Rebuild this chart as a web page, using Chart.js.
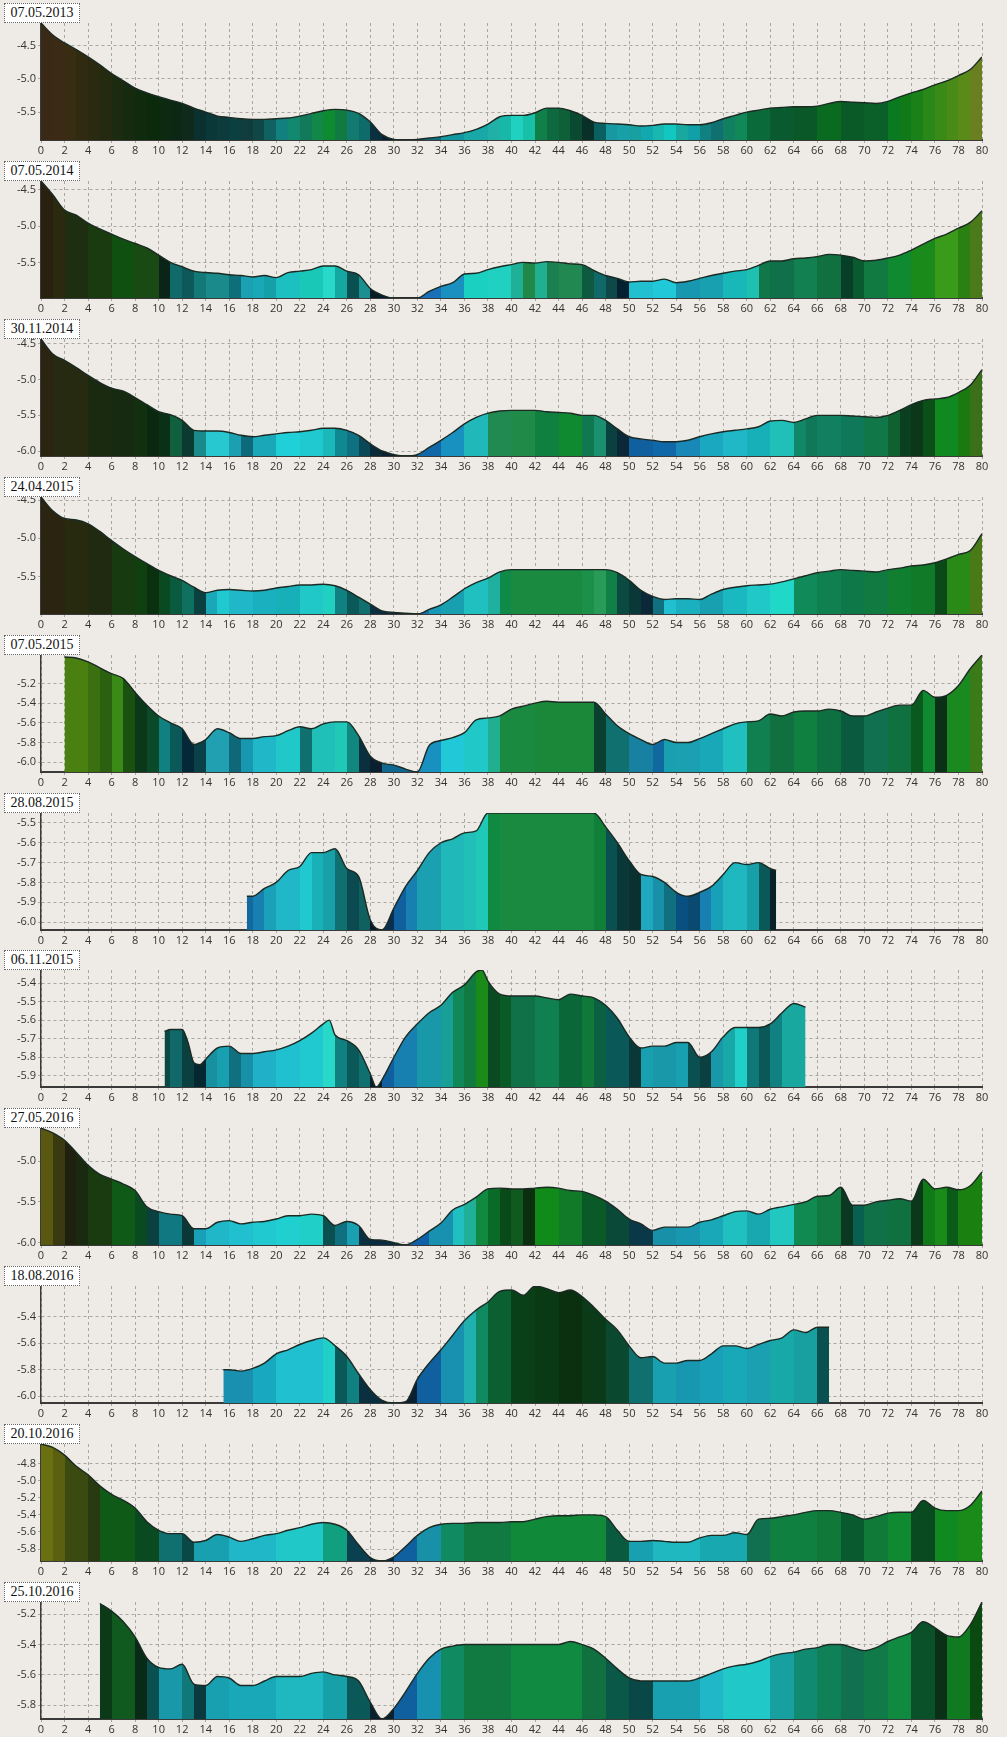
<!DOCTYPE html>
<html><head><meta charset="utf-8">
<script src="https://cdn.jsdelivr.net/npm/chart.js@4/dist/chart.umd.min.js"></script>
<style>
body{margin:0;background:#eeebe6;width:1007px;height:1737px;overflow:hidden;position:relative}
.panel{position:absolute;left:0;width:1007px;height:158px}
.panel canvas{position:absolute;left:0;top:0}
.ttl{position:absolute;left:4px;top:3px;width:74px;height:18px;border:1px dotted #666;background:#fff;font:14px "Liberation Serif",serif;color:#111;line-height:18px;text-align:center;z-index:2}
</style></head><body>
<script>
// ---- categories / tick labels ----
const titles = ['07.05.2013','07.05.2014','30.11.2014','24.04.2015','07.05.2015','28.08.2015','06.11.2015','27.05.2016','18.08.2016','20.10.2016','25.10.2016'];
const km = [0,1,2,3,4,5,6,7,8,9,10,11,12,13,14,15,16,17,18,19,20,21,22,23,24,25,26,27,28,29,30,31,32,33,34,35,36,37,38,39,40,41,42,43,44,45,46,47,48,49,50,51,52,53,54,55,56,57,58,59,60,61,62,63,64,65,66,67,68,69,70,71,72,73,74,75,76,77,78,79,80];
const xTicks = [0,2,4,6,8,10,12,14,16,18,20,22,24,26,28,30,32,34,36,38,40,42,44,46,48,50,52,54,56,58,60,62,64,66,68,70,72,74,76,78,80];

// ---- y tick labels per panel ----
const yTicks1 = [-4.5,-5.0,-5.5];
const yTicks2 = [-4.5,-5.0,-5.5];
const yTicks3 = [-4.5,-5.0,-5.5,-6.0];
const yTicks4 = [-4.5,-5.0,-5.5];
const yTicks5 = [-5.2,-5.4,-5.6,-5.8,-6.0];
const yTicks6 = [-5.5,-5.6,-5.7,-5.8,-5.9,-6.0];
const yTicks7 = [-5.4,-5.5,-5.6,-5.7,-5.8,-5.9];
const yTicks8 = [-5.0,-5.5,-6.0];
const yTicks9 = [-5.4,-5.6,-5.8,-6.0];
const yTicks10 = [-4.8,-5.0,-5.2,-5.4,-5.6,-5.8];
const yTicks11 = [-5.2,-5.4,-5.6,-5.8];

// ---- positions of partial profiles ----
const pos5 = km.slice(2);
const pos6 = [17.5,18,19,20,21,22,23,24,25,26,27,28,29,30,31,32,33,34,35,36,37,38,39,40,41,42,43,44,45,46,47,48,49,50,51,52,53,54,55,56,57,58,59,60,61,62,62.5];
const pos7 = [10.5,11,12,12.5,13,13.5,14,15,16,17,18,19,20,21,22,23,24,24.5,25,26,27,28,28.5,29,30,31,32,33,34,35,36,37,37.5,38,39,40,41,42,43,44,45,46,47,48,49,50,51,52,53,54,55,56,57,58,59,60,61,62,63,64,65];
const pos9 = [15.5,16,17,18,19,20,21,22,23,24,25,26,27,28,29,30,31,32,33,34,35,36,37,38,39,40,41,42,43,44,45,46,47,48,49,50,51,52,53,54,55,56,57,58,59,60,61,62,63,64,65,66,67];
const pos11 = km.slice(5);

// ---- depth values ----
const depth1 = [-4.16,-4.34,-4.46,-4.56,-4.67,-4.79,-4.92,-5.03,-5.14,-5.21,
-5.27,-5.32,-5.37,-5.44,-5.50,-5.56,-5.58,-5.60,-5.61,-5.61,
-5.60,-5.59,-5.56,-5.52,-5.48,-5.46,-5.47,-5.52,-5.65,-5.84,
-5.91,-5.92,-5.91,-5.89,-5.87,-5.84,-5.81,-5.76,-5.68,-5.57,
-5.55,-5.55,-5.51,-5.44,-5.44,-5.48,-5.55,-5.65,-5.67,-5.68,
-5.69,-5.71,-5.70,-5.68,-5.68,-5.69,-5.69,-5.66,-5.60,-5.55,
-5.50,-5.47,-5.44,-5.43,-5.42,-5.42,-5.41,-5.37,-5.34,-5.35,
-5.36,-5.37,-5.34,-5.27,-5.21,-5.16,-5.09,-5.03,-4.95,-4.86,-4.67];
const depth2 = [-4.38,-4.57,-4.78,-4.85,-4.96,-5.04,-5.11,-5.18,-5.24,-5.30,
-5.40,-5.50,-5.56,-5.62,-5.64,-5.65,-5.67,-5.68,-5.70,-5.68,
-5.71,-5.64,-5.62,-5.60,-5.55,-5.55,-5.62,-5.67,-5.86,-5.95,
-5.99,-5.99,-5.99,-5.90,-5.83,-5.78,-5.66,-5.65,-5.60,-5.56,
-5.53,-5.50,-5.51,-5.49,-5.50,-5.52,-5.53,-5.61,-5.68,-5.72,
-5.77,-5.76,-5.76,-5.73,-5.78,-5.76,-5.72,-5.68,-5.65,-5.62,
-5.60,-5.54,-5.48,-5.48,-5.45,-5.44,-5.42,-5.39,-5.40,-5.43,
-5.48,-5.47,-5.44,-5.40,-5.33,-5.25,-5.17,-5.11,-5.03,-4.95,-4.79];
const depth3 = [-4.43,-4.64,-4.73,-4.83,-4.94,-5.04,-5.12,-5.16,-5.25,-5.35,
-5.45,-5.49,-5.57,-5.71,-5.72,-5.72,-5.74,-5.78,-5.80,-5.78,
-5.76,-5.74,-5.73,-5.71,-5.68,-5.68,-5.71,-5.78,-5.90,-6.00,
-6.05,-6.07,-6.05,-5.95,-5.85,-5.74,-5.62,-5.53,-5.47,-5.44,
-5.43,-5.43,-5.43,-5.45,-5.46,-5.47,-5.50,-5.50,-5.57,-5.69,
-5.80,-5.83,-5.85,-5.87,-5.87,-5.85,-5.80,-5.76,-5.73,-5.71,
-5.69,-5.66,-5.58,-5.57,-5.60,-5.55,-5.50,-5.50,-5.50,-5.51,
-5.52,-5.53,-5.50,-5.43,-5.35,-5.29,-5.27,-5.25,-5.18,-5.08,-4.86];
const depth4 = [-4.46,-4.64,-4.74,-4.76,-4.81,-4.91,-5.03,-5.14,-5.24,-5.33,
-5.42,-5.49,-5.55,-5.64,-5.71,-5.68,-5.67,-5.68,-5.69,-5.68,
-5.65,-5.63,-5.61,-5.61,-5.60,-5.62,-5.68,-5.77,-5.86,-5.95,
-5.97,-5.98,-5.99,-5.93,-5.87,-5.77,-5.66,-5.58,-5.52,-5.44,
-5.41,-5.41,-5.41,-5.41,-5.41,-5.41,-5.41,-5.41,-5.41,-5.45,
-5.55,-5.68,-5.76,-5.80,-5.79,-5.79,-5.80,-5.73,-5.67,-5.64,
-5.62,-5.61,-5.60,-5.57,-5.53,-5.49,-5.45,-5.43,-5.41,-5.42,
-5.43,-5.44,-5.41,-5.39,-5.36,-5.35,-5.32,-5.27,-5.21,-5.16,-4.94];
const depth5 = [-4.93,-4.94,-4.98,-5.04,-5.10,-5.15,-5.29,-5.42,-5.53,-5.60,
-5.66,-5.82,-5.77,-5.66,-5.70,-5.76,-5.76,-5.74,-5.73,-5.68,
-5.64,-5.66,-5.61,-5.59,-5.59,-5.73,-5.94,-6.01,-6.03,-6.07,
-6.10,-5.83,-5.78,-5.75,-5.70,-5.57,-5.55,-5.53,-5.46,-5.43,
-5.40,-5.38,-5.39,-5.39,-5.39,-5.39,-5.51,-5.63,-5.71,-5.77,
-5.82,-5.77,-5.80,-5.80,-5.76,-5.71,-5.66,-5.61,-5.59,-5.58,
-5.51,-5.53,-5.49,-5.48,-5.48,-5.46,-5.48,-5.53,-5.53,-5.49,
-5.45,-5.42,-5.42,-5.27,-5.34,-5.32,-5.22,-5.05,-4.91];
const depth6 = [-5.87,-5.87,-5.83,-5.80,-5.74,-5.72,-5.65,-5.65,-5.63,-5.73,-5.77,-5.99,-6.04,-5.93,-5.82,-5.74,-5.65,-5.60,-5.58,-5.55,-5.54,
-5.45,-5.45,-5.45,-5.45,-5.45,-5.45,-5.45,-5.45,-5.45,-5.45,
-5.52,-5.60,-5.69,-5.76,-5.77,-5.80,-5.85,-5.87,-5.85,-5.82,-5.76,-5.70,-5.71,-5.70,-5.73,-5.74];
const depth7 = [-5.66,-5.65,-5.65,-5.72,-5.83,-5.84,-5.81,-5.75,-5.74,-5.78,-5.78,-5.77,-5.76,-5.74,-5.71,-5.67,-5.62,-5.60,-5.68,-5.71,-5.76,-5.89,-5.96,-5.92,
-5.80,-5.69,-5.62,-5.56,-5.52,-5.45,-5.41,-5.34,-5.33,-5.39,-5.46,-5.47,-5.47,-5.47,-5.48,-5.49,-5.46,-5.47,-5.48,-5.52,-5.59,
-5.69,-5.75,-5.74,-5.74,-5.72,-5.72,-5.80,-5.77,-5.69,-5.64,-5.64,-5.64,-5.62,-5.56,-5.51,-5.53];
const depth8 = [-4.59,-4.65,-4.74,-4.89,-5.05,-5.16,-5.22,-5.28,-5.36,-5.56,
-5.62,-5.65,-5.67,-5.83,-5.83,-5.75,-5.73,-5.77,-5.75,-5.74,
-5.71,-5.67,-5.67,-5.65,-5.67,-5.79,-5.74,-5.79,-5.96,-5.97,
-6.00,-6.03,-5.96,-5.86,-5.76,-5.60,-5.53,-5.44,-5.34,-5.33,
-5.34,-5.34,-5.33,-5.32,-5.33,-5.36,-5.37,-5.42,-5.49,-5.59,
-5.71,-5.77,-5.85,-5.81,-5.81,-5.81,-5.75,-5.72,-5.67,-5.62,
-5.61,-5.65,-5.59,-5.56,-5.53,-5.50,-5.43,-5.42,-5.32,-5.54,
-5.54,-5.50,-5.48,-5.46,-5.49,-5.22,-5.34,-5.32,-5.35,-5.30,-5.13];
const depth9 = [-5.80,-5.80,-5.81,-5.79,-5.75,-5.68,-5.65,-5.61,-5.58,-5.56,-5.62,-5.70,-5.83,-5.95,-6.03,-6.05,-6.04,-5.87,-5.75,-5.65,-5.54,-5.43,-5.35,-5.29,-5.21,-5.20,
-5.24,-5.17,-5.19,-5.22,-5.20,-5.25,-5.33,-5.42,-5.50,-5.62,-5.71,-5.70,-5.75,-5.75,-5.73,-5.73,-5.68,-5.62,-5.62,-5.64,-5.61,-5.58,-5.56,-5.50,-5.52,-5.48,-5.48];
const depth10 = [-4.57,-4.61,-4.70,-4.83,-4.93,-5.06,-5.16,-5.23,-5.32,-5.48,
-5.58,-5.62,-5.62,-5.72,-5.70,-5.63,-5.66,-5.71,-5.68,-5.64,
-5.62,-5.58,-5.55,-5.51,-5.49,-5.51,-5.58,-5.75,-5.90,-5.94,
-5.89,-5.77,-5.64,-5.55,-5.51,-5.50,-5.50,-5.49,-5.49,-5.49,
-5.48,-5.48,-5.45,-5.42,-5.41,-5.41,-5.40,-5.40,-5.42,-5.58,
-5.71,-5.71,-5.70,-5.71,-5.72,-5.72,-5.67,-5.64,-5.64,-5.61,
-5.63,-5.45,-5.44,-5.42,-5.40,-5.37,-5.35,-5.35,-5.37,-5.40,
-5.45,-5.42,-5.38,-5.37,-5.37,-5.23,-5.32,-5.35,-5.35,-5.29,-5.12];
const depth11 = [-5.13,-5.18,-5.25,-5.35,-5.49,-5.55,-5.56,-5.53,-5.66,-5.67,
-5.61,-5.62,-5.67,-5.67,-5.64,-5.61,-5.61,-5.61,-5.59,-5.58,
-5.60,-5.61,-5.64,-5.78,-5.89,-5.82,-5.71,-5.59,-5.49,-5.43,
-5.41,-5.40,-5.40,-5.40,-5.40,-5.40,-5.40,-5.40,-5.40,-5.40,
-5.38,-5.40,-5.43,-5.49,-5.56,-5.62,-5.64,-5.64,-5.64,-5.64,
-5.64,-5.62,-5.59,-5.56,-5.54,-5.53,-5.51,-5.48,-5.46,-5.45,
-5.43,-5.42,-5.40,-5.40,-5.42,-5.44,-5.42,-5.38,-5.35,-5.32,
-5.25,-5.29,-5.34,-5.35,-5.27,-5.12];

// ---- colour bands along the profile [from km, to km, colour] ----
const band1 = [[0,1,'#3b2918'],[1,2,'#3a2a16'],[2,3,'#382c12'],[3,4,'#302a10'],[4,5,'#2a2a10'],[5,6,'#232a10'],[6,7,'#1c2a10'],[7,8,'#162a10'],[8,9,'#102a0e'],[9,10,'#0b2a0c'],[10,11,'#0b2a10'],[11,12,'#0c2814'],[12,13,'#0f2a1a'],[13,14,'#0b3030'],[14,15,'#0a3838'],[15,16,'#0d3a3a'],[16,17,'#0c4040'],[17,18,'#103c3c'],[18,19,'#104646'],[19,20,'#106262'],[20,21,'#138080'],[21,22,'#128870'],[22,23,'#127a5a'],[23,24,'#128848'],[24,25,'#0e8a30'],[25,26,'#107a40'],[26,27,'#137a70'],[27,28,'#0f6a6a'],[28,29,'#0a3040'],[29,30,'#082030'],[30,32,'#0a2a40'],[32,34,'#106a80'],[34,36,'#1298a0'],[36,38,'#18a8a8'],[38,39,'#20b0a8'],[39,40,'#18b8a8'],[40,41,'#20d0c0'],[41,42,'#18c0a8'],[42,43,'#108048'],[43,44,'#0d6a40'],[44,45,'#0e6038'],[45,46,'#0a4a30'],[46,47,'#083028'],[47,48,'#0a6060'],[48,49,'#1898a0'],[49,50,'#18a0a8'],[50,51,'#18a0a0'],[51,52,'#12a8b0'],[52,53,'#18b8b0'],[53,54,'#10c8c0'],[54,55,'#18a8a0'],[55,56,'#12a0a8'],[56,57,'#108080'],[57,58,'#107070'],[58,59,'#108060'],[59,60,'#108858'],[60,62,'#0a6a3a'],[62,64,'#0a5a30'],[64,66,'#0a5828'],[66,68,'#0a6a20'],[68,70,'#0a5a28'],[70,72,'#0a6028'],[72,73,'#0a7a20'],[73,74,'#107a18'],[74,75,'#1a8018'],[75,76,'#2a8818'],[76,77,'#3a8a18'],[77,78,'#4a8a18'],[78,79,'#5a8a18'],[79,80,'#6a8020']];
const band2 = [[0,1,'#2a2010'],[1,2,'#2a2a10'],[2,4,'#1e2e10'],[4,6,'#1a3a10'],[6,8,'#0f5010'],[8,10,'#1a4a14'],[10,11,'#0a2418'],[11,12,'#106a6a'],[12,13,'#0d5858'],[13,14,'#137878'],[14,16,'#1a8a8a'],[16,17,'#0e6e7a'],[17,18,'#1aa0b0'],[18,19,'#19a8b8'],[19,20,'#15a0a8'],[20,22,'#1cc0c0'],[22,24,'#1ac8b8'],[24,25,'#28d8c8'],[25,26,'#15a8a0'],[26,27,'#0a5050'],[27,28,'#1a9090'],[28,29,'#061e28'],[29,32,'#0a1a30'],[32,34,'#1870b8'],[34,36,'#1a90c0'],[36,38,'#1ad0c0'],[38,40,'#20d0c0'],[40,41,'#20b098'],[41,42,'#208848'],[42,43,'#20b090'],[43,44,'#1a8050'],[44,46,'#208850'],[46,47,'#0d5a40'],[47,48,'#106868'],[48,49,'#0e4848'],[49,50,'#052030'],[50,52,'#20c0d0'],[52,54,'#20c8d8'],[54,56,'#1898b0'],[56,58,'#18a0b0'],[58,60,'#18b8b8'],[60,61,'#20c0b0'],[61,62,'#107848'],[62,64,'#10704a'],[64,66,'#128050'],[66,68,'#107040'],[68,69,'#063e28'],[69,70,'#0a5a30'],[70,72,'#107a40'],[72,74,'#108a30'],[74,76,'#1a8a1a'],[76,78,'#3a9a1a'],[78,79,'#2a8010'],[79,80,'#4a7a1a']];
const band3 = [[0,1,'#2a2410'],[1,4,'#252a10'],[4,6,'#1a2a10'],[6,8,'#152a10'],[8,9,'#103010'],[9,10,'#0a2810'],[10,11,'#0a3018'],[11,12,'#106040'],[12,13,'#0a3a30'],[13,14,'#1a8a8a'],[14,16,'#28c8d0'],[16,17,'#1aa0b0'],[17,18,'#0e6a7a'],[18,20,'#1aa8b8'],[20,22,'#20d0d8'],[22,24,'#20c8d0'],[24,25,'#1ab8b8'],[25,26,'#108890'],[26,27,'#0e7080'],[27,28,'#0a4858'],[28,29,'#0a2a38'],[29,32,'#082030'],[32,34,'#1068a8'],[34,36,'#1890c0'],[36,38,'#20b8b8'],[38,40,'#208a50'],[40,42,'#208a48'],[42,44,'#108040'],[44,46,'#108a30'],[46,47,'#107850'],[47,48,'#1a9070'],[48,49,'#0a4040'],[49,50,'#0a2838'],[50,52,'#1060a0'],[52,54,'#1068a8'],[54,56,'#1888b8'],[56,58,'#1aa8c0'],[58,60,'#20b8c8'],[60,62,'#18b0b8'],[62,64,'#20c0b8'],[64,65,'#108868'],[65,66,'#107858'],[66,68,'#108060'],[68,70,'#0e7858'],[70,72,'#107848'],[72,73,'#106030'],[73,74,'#0a4020'],[74,75,'#0a3818'],[75,76,'#0a5018'],[76,78,'#108a20'],[78,79,'#1a7a10'],[79,80,'#3a7018']];
const band4 = [[0,2,'#2a2410'],[2,4,'#282a10'],[4,6,'#202a10'],[6,8,'#183a10'],[8,9,'#104010'],[9,10,'#0a3010'],[10,11,'#0a4a20'],[11,12,'#0a5a40'],[12,13,'#107060'],[13,14,'#0a4040'],[14,15,'#1aa8b8'],[15,16,'#20c8d0'],[16,18,'#20b8c8'],[18,20,'#1ab0c0'],[20,22,'#18b0b8'],[22,24,'#20c8c8'],[24,25,'#20d0c0'],[25,26,'#108080'],[26,27,'#0a5858'],[27,28,'#107070'],[28,29,'#0a3040'],[29,32,'#0a2838'],[32,33,'#1870a8'],[33,34,'#1898b8'],[34,36,'#18a0b0'],[36,38,'#20c0c0'],[38,39,'#20b0a0'],[39,40,'#108a48'],[40,46,'#1a8a40'],[46,47,'#1a9048'],[47,48,'#2a9a58'],[48,49,'#108048'],[49,50,'#0a4a40'],[50,51,'#0a3838'],[51,52,'#0a2838'],[52,53,'#107080'],[53,54,'#20c0d0'],[54,56,'#1ab0c0'],[56,58,'#18a0b0'],[58,60,'#1ab8c0'],[60,62,'#20c8c8'],[62,64,'#20d8c8'],[64,66,'#108a58'],[66,68,'#108050'],[68,70,'#0e7848'],[70,72,'#107a40'],[72,74,'#108030'],[74,76,'#107a28'],[76,77,'#0a4a18'],[77,79,'#2a8a18'],[79,80,'#4a7a18']];
const band5 = [[2,4,'#4a8010'],[4,5,'#3a7010'],[5,6,'#2a6010'],[6,7,'#3a8a18'],[7,8,'#1a5010'],[8,9,'#0a3818'],[9,10,'#0a4a28'],[10,11,'#108080'],[11,12,'#0a5858'],[12,13,'#052838'],[13,14,'#0a4048'],[14,16,'#20a0b0'],[16,17,'#0e6878'],[17,18,'#1898b0'],[18,20,'#20b8c8'],[20,22,'#20c8c8'],[22,23,'#107070'],[23,25,'#20c0b8'],[25,26,'#20c8b8'],[26,27,'#108880'],[27,28,'#0a3040'],[28,29,'#0a2030'],[29,32,'#106890'],[32,34,'#1890c0'],[34,36,'#20c8d8'],[36,38,'#20c8c8'],[38,39,'#20b090'],[39,42,'#1a8a40'],[42,47,'#1a8838'],[47,48,'#0a4030'],[48,50,'#107070'],[50,52,'#1880a0'],[52,53,'#1068a0'],[53,54,'#18a0b0'],[54,56,'#1aa0b0'],[56,58,'#18a8b8'],[58,60,'#20c0c0'],[60,62,'#108050'],[62,64,'#107040'],[64,66,'#108040'],[66,68,'#0e7040'],[68,70,'#0a5a40'],[70,72,'#107050'],[72,74,'#107040'],[74,75,'#0a5a20'],[75,76,'#108a30'],[76,77,'#0a3018'],[77,79,'#1a8a20'],[79,80,'#3a7a18']];
const band6 = [[17.5,18,'#106aa0'],[18,19,'#1880b0'],[19,20,'#1aa0b8'],[20,22,'#20b8c8'],[22,23,'#20c8d0'],[23,24,'#1ab0b8'],[24,25,'#18a0a8'],[25,26,'#107070'],[26,27,'#0a4a50'],[27,28,'#106060'],[28,29,'#081828'],[29,30,'#0a3050'],[30,31,'#1060a0'],[31,32,'#1880b0'],[32,34,'#1aa0b0'],[34,36,'#20b8b8'],[36,37,'#20c0b8'],[37,38,'#20c8b8'],[38,39,'#108a40'],[39,47,'#1a8a40'],[47,48,'#108038'],[48,49,'#0a5050'],[49,50,'#0a3838'],[50,51,'#0a3030'],[51,52,'#20a8c0'],[52,53,'#1890a8'],[53,54,'#107080'],[54,55,'#085080'],[55,56,'#0a4a70'],[56,57,'#1880b0'],[57,58,'#18a0b8'],[58,60,'#20b8c0'],[60,61,'#18a0a8'],[61,62,'#0a5858'],[62,62.5,'#082028']];
const band7 = [[10.5,11,'#0a4848'],[11,12,'#106868'],[12,13,'#0a4040'],[13,14,'#052830'],[14,15,'#1890a0'],[15,16,'#18a0b0'],[16,17,'#107080'],[17,18,'#1890a8'],[18,20,'#20b0c8'],[20,22,'#20c0d0'],[22,24,'#20c8d0'],[24,25,'#28d8c8'],[25,26,'#108080'],[26,27,'#0a5858'],[27,28,'#107070'],[28,29,'#061e28'],[29,30,'#1060a0'],[30,32,'#1880b0'],[32,34,'#1898a8'],[34,35,'#18a098'],[35,36,'#108858'],[36,37,'#107a40'],[37,38,'#1a8a18'],[38,39,'#0a4a20'],[39,40,'#0a5a28'],[40,42,'#107048'],[42,44,'#108050'],[44,46,'#0a6838'],[46,47,'#107838'],[47,48,'#0a6040'],[48,50,'#0a5858'],[50,51,'#0a3838'],[51,52,'#18a0b0'],[52,54,'#1898a8'],[54,55,'#18a0b0'],[55,56,'#0a5050'],[56,57,'#0a4040'],[57,58,'#1898a8'],[58,59,'#18a8a8'],[59,60,'#20d0c8'],[60,61,'#107878'],[61,62,'#0a5858'],[62,63,'#108080'],[63,65,'#18a8a0']];
const band8 = [[0,1,'#5a5810'],[1,2,'#3a3a10'],[2,3,'#202010'],[3,4,'#1a2a10'],[4,6,'#1a3a10'],[6,8,'#105a18'],[8,9,'#0a4a20'],[9,10,'#0a4040'],[10,12,'#107880'],[12,13,'#0a3838'],[13,14,'#18a0b8'],[14,16,'#20b8c8'],[16,18,'#20c0d0'],[18,20,'#20c8d0'],[20,22,'#20d0d0'],[22,24,'#20d0c8'],[24,25,'#0a5050'],[25,26,'#107080'],[26,27,'#1aa0b0'],[27,28,'#0a3040'],[28,31,'#0a2a40'],[31,33,'#1060a8'],[33,35,'#1890b0'],[35,36,'#20c0c0'],[36,37,'#20b098'],[37,38,'#108a40'],[38,39,'#0a6a28'],[39,40,'#0a4a18'],[40,41,'#105a20'],[41,42,'#0a3010'],[42,44,'#108a18'],[44,46,'#107a28'],[46,48,'#0a5a28'],[48,50,'#0a4838'],[50,52,'#0a3848'],[52,54,'#1890a8'],[54,56,'#1898b0'],[56,58,'#18a8b8'],[58,60,'#20c0c0'],[60,62,'#18a8b0'],[62,64,'#20c8c0'],[64,66,'#108a50'],[66,68,'#107a40'],[68,69,'#0a3820'],[69,70,'#0a6050'],[70,72,'#107048'],[72,74,'#107040'],[74,75,'#0a3818'],[75,76,'#107a18'],[76,77,'#1a8a18'],[77,78,'#0a5a18'],[78,80,'#1a8010']];
const band9 = [[15.5,18,'#1a90b0'],[18,20,'#18a8c0'],[20,24,'#20c0d0'],[24,25,'#20d0c8'],[25,26,'#0a5858'],[26,27,'#108080'],[27,29,'#0a3040'],[29,32,'#0a2030'],[32,34,'#1060a0'],[34,36,'#1890b0'],[36,37,'#20b0b0'],[37,38,'#108a60'],[38,40,'#0a6030'],[40,42,'#0a4018'],[42,44,'#0a3a14'],[44,46,'#0a3010'],[46,48,'#0a3a18'],[48,50,'#0a4830'],[50,52,'#107070'],[52,54,'#18a0b0'],[54,56,'#1898b0'],[56,58,'#18a0b8'],[58,60,'#18a8b8'],[60,62,'#1aa0b0'],[62,64,'#18a8a8'],[64,66,'#18a0a0'],[66,67,'#0a5050']];
const band10 = [[0,1,'#6a7010'],[1,2,'#5a6010'],[2,4,'#3a4a10'],[4,5,'#2a3a10'],[5,8,'#105a18'],[8,10,'#0a4a20'],[10,12,'#107070'],[12,13,'#0a4848'],[13,16,'#18a0b0'],[16,20,'#20b8c8'],[20,24,'#20c8c8'],[24,26,'#10a080'],[26,28,'#0a4050'],[28,30,'#0a2838'],[30,32,'#1060a0'],[32,34,'#1890a8'],[34,36,'#108a60'],[36,40,'#107a40'],[40,48,'#108a38'],[48,50,'#0a5a40'],[50,52,'#18a0b0'],[52,56,'#20b8c0'],[56,60,'#18a8b0'],[60,62,'#107050'],[62,66,'#108040'],[66,68,'#107838'],[68,70,'#0a5a30'],[70,72,'#107a38'],[72,74,'#108a30'],[74,76,'#0a4a20'],[76,78,'#108a20'],[78,80,'#1a8a18']];
const band11 = [[5,6,'#0a3a18'],[6,8,'#105a20'],[8,9,'#0a2a18'],[9,10,'#0a5050'],[10,12,'#1898a8'],[12,13,'#107878'],[13,14,'#0a3a40'],[14,16,'#18a0b0'],[16,20,'#18a8b8'],[20,24,'#20b8c0'],[24,26,'#18a0a8'],[26,28,'#0a5858'],[28,30,'#0a2030'],[30,32,'#1060a0'],[32,34,'#1890b0'],[34,36,'#108a60'],[36,40,'#107a40'],[40,46,'#108a40'],[46,48,'#107040'],[48,50,'#0a5848'],[50,52,'#0a4848'],[52,56,'#18a0b0'],[56,58,'#20b8c8'],[58,62,'#20c8c8'],[62,64,'#18a0a0'],[64,66,'#108a70'],[66,68,'#108058'],[68,70,'#107050'],[70,72,'#107a48'],[72,74,'#108a40'],[74,76,'#0a5028'],[76,77,'#0a3018'],[77,79,'#107a20'],[79,80,'#0a4a10']];

const panels = [
  {title: titles[0], x: km, y: depth1, ticks: yTicks1, bands: band1},
  {title: titles[1], x: km, y: depth2, ticks: yTicks2, bands: band2},
  {title: titles[2], x: km, y: depth3, ticks: yTicks3, bands: band3},
  {title: titles[3], x: km, y: depth4, ticks: yTicks4, bands: band4},
  {title: titles[4], x: pos5, y: depth5, ticks: yTicks5, bands: band5},
  {title: titles[5], x: pos6, y: depth6, ticks: yTicks6, bands: band6},
  {title: titles[6], x: pos7, y: depth7, ticks: yTicks7, bands: band7},
  {title: titles[7], x: km, y: depth8, ticks: yTicks8, bands: band8},
  {title: titles[8], x: pos9, y: depth9, ticks: yTicks9, bands: band9},
  {title: titles[9], x: km, y: depth10, ticks: yTicks10, bands: band10},
  {title: titles[10], x: pos11, y: depth11, ticks: yTicks11, bands: band11}
];

function bandFill(chart, bands) {
  const {ctx, chartArea, scales} = chart;
  if (!chartArea) return 'rgba(0,0,0,0)';
  const x0 = scales.x.getPixelForValue(0), x1 = scales.x.getPixelForValue(80);
  const g = ctx.createLinearGradient(x0, 0, x1, 0);
  for (const [a, b, c] of bands) { g.addColorStop(a / 80, c); g.addColorStop(b / 80, c); }
  return g;
}

const gridCol = '#a8a6a2';
const tickFont = {family: 'Open Sans', size: 11};

panels.forEach((p, i) => {
  const div = document.createElement('div');
  div.className = 'panel';
  div.style.top = Math.round(i * 1737 / 11) + 'px';
  const cv = document.createElement('canvas');
  cv.width = 1007; cv.height = 158;
  cv.style.width = '1007px'; cv.style.height = '158px';
  const t = document.createElement('div');
  t.className = 'ttl'; t.textContent = p.title;
  div.appendChild(cv); div.appendChild(t);
  document.body.appendChild(div);
  const pts = p.x.map((x, k) => ({x: x, y: p.y[k]}));
  new Chart(cv, {
    type: 'line',
    data: {datasets: [{
      data: pts, fill: 'start', borderColor: '#1b2a23', borderWidth: 1.4,
      pointRadius: 0, cubicInterpolationMode: 'monotone',
      backgroundColor: ctx => bandFill(ctx.chart, p.bands)
    }]},
    options: {
      responsive: false, animation: false, events: [],
      layout: {padding: {left: 0, right: 25, top: 23, bottom: 0}},
      plugins: {legend: {display: false}, tooltip: {enabled: false}},
      scales: {
        x: {
          type: 'linear', min: 0, max: 80,
          afterBuildTicks: s => { s.ticks = xTicks.map(v => ({value: v})); },
          afterFit: s => { s.height = 18; },
          grid: {color: gridCol, lineWidth: 1, tickLength: 3},
          border: {color: '#3a3a3a', width: 2, dash: [3, 3]},
          ticks: {font: tickFont, color: '#333', padding: 1, maxRotation: 0, autoSkip: false}
        },
        y: {
          min: Math.min(...p.y), max: Math.max(...p.y),
          afterBuildTicks: s => { s.ticks = p.ticks.map(v => ({value: v})); },
          afterFit: s => { s.width = 41; },
          grid: {color: gridCol, lineWidth: 1, tickLength: 3},
          border: {color: '#3a3a3a', width: 1.5, dash: [3, 3]},
          ticks: {font: tickFont, color: '#333', padding: 2, autoSkip: false, callback: v => v.toFixed(1)}
        }
      }
    }
  });
});
</script>
</body></html>
